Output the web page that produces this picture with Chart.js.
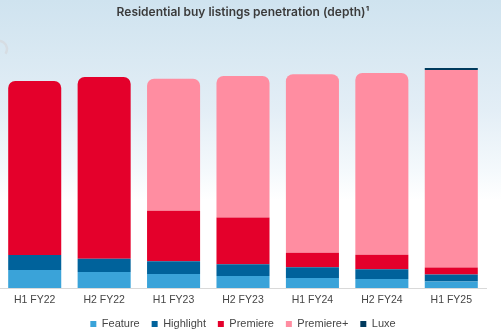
<!DOCTYPE html>
<html>
<head>
<meta charset="utf-8">
<script src="https://cdn.jsdelivr.net/npm/chart.js@4.4.1/dist/chart.umd.min.js"></script>
<style>
  html, body { margin: 0; padding: 0; }
  body {
    width: 501px; height: 334px; overflow: hidden;
    background: linear-gradient(to bottom, #cfe3ef 0px, #e3eef6 110px, #f4f9fc 170px, #ffffff 200px, #ffffff 334px);
  }
  #wrap { position: relative; width: 501px; height: 334px; }
</style>
</head>
<body>
<div id="wrap"><canvas id="chart" width="501" height="334"></canvas></div>
<script>
// Half-year periods
const periods = ['H1 FY22', 'H2 FY22', 'H1 FY23', 'H2 FY23', 'H1 FY24', 'H2 FY24', 'H1 FY25'];

// Share of residential buy listings by product tier (%)
const feature    = [8.2, 7.3, 6.4, 5.5, 4.5, 4.1, 2.9];
const highlight  = [6.8, 6.0, 5.8, 5.3, 4.9, 4.4, 3.2];
const premiere   = [79.1, 82.6, 22.9, 21.2, 6.6, 6.6, 3.2];
const premierePlus = [0, 0, 60.0, 64.4, 81.2, 82.6, 89.8];
const luxe       = [0, 0, 0, 0, 0, 0, 0.9];

const seriesNames  = ['Feature', 'Highlight', 'Premiere', 'Premiere+', 'Luxe'];
const seriesColors = ['#3aa3d9', '#00629b', '#e4002b', '#ff8da1', '#003a5d'];
const seriesValues = [feature, highlight, premiere, premierePlus, luxe];

// Round only the top of each stack (the latest period has a flat top)
const flatTopIndex = periods.length - 1;
function topRadius(ctx) {
  const i = ctx.dataIndex, d = ctx.datasetIndex;
  if (i === flatTopIndex) return 0;
  let top = -1;
  seriesValues.forEach((vals, k) => { if (vals[i] > 0) top = k; });
  return d === top ? { topLeft: 7, topRight: 7, bottomLeft: 0, bottomRight: 0 } : 0;
}

// Small decorative arc at the left edge
const cornerArc = {
  id: 'cornerArc',
  beforeDraw(chart) {
    const c = chart.ctx;
    c.save();
    c.strokeStyle = '#d6dde3';
    c.lineWidth = 2.5;
    c.beginPath();
    c.arc(-1, 49, 8, -Math.PI * 0.55, Math.PI * 0.2);
    c.stroke();
    c.restore();
  }
};

const datasets = seriesNames.map((name, k) => ({
  label: name,
  data: seriesValues[k],
  backgroundColor: seriesColors[k],
  borderWidth: 0,
  borderRadius: topRadius,
  borderSkipped: 'start',
  barPercentage: 0.764,
  categoryPercentage: 1.0
}));

new Chart(document.getElementById('chart'), {
  type: 'bar',
  data: { labels: periods, datasets },
  plugins: [cornerArc],
  options: {
    responsive: false,
    animation: false,
    layout: { padding: { left: 0, right: 15, top: 0, bottom: -5.5 } },
    scales: {
      x: {
        stacked: true,
        afterFit(scale) { scale.height = 18.6; },
        grid: { display: false, drawTicks: false },
        border: { display: true, color: '#d9d9d9', width: 1 },
        ticks: {
          color: '#454545',
          padding: 6,
          font: { family: '"Liberation Sans", Arial, sans-serif', size: 10.5 }
        }
      },
      y: {
        stacked: true,
        display: false,
        min: 0,
        max: 100
      }
    },
    plugins: {
      title: {
        display: true,
        text: 'Residential buy listings penetration (depth)¹',
        color: '#3b3b3b',
        font: { family: 'Inter, "Open Sans", sans-serif', size: 12, weight: '600' },
        padding: { top: 5, bottom: 48.6 }
      },
      legend: {
        display: true,
        position: 'bottom',
        labels: {
          boxWidth: 6,
          boxHeight: 6,
          padding: 11.9,
          color: '#454545',
          font: { family: '"Liberation Sans", Arial, sans-serif', size: 11 }
        }
      },
      tooltip: { enabled: false }
    }
  }
});
</script>
</body>
</html>
